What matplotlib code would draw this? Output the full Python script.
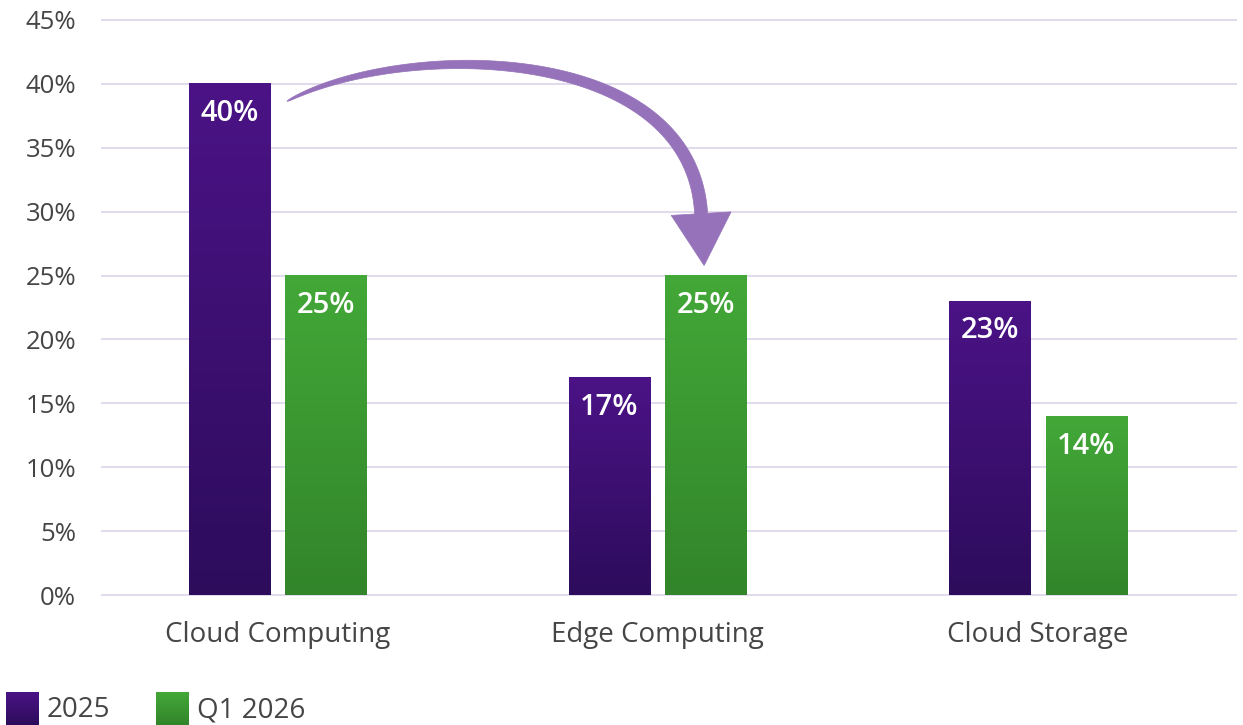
import numpy as np
import matplotlib
matplotlib.use("Agg")
import matplotlib.pyplot as plt
from matplotlib.patches import Polygon
from matplotlib.transforms import IdentityTransform
from matplotlib.ticker import FuncFormatter

# ---- data -------------------------------------------------------------
categories = ["Cloud Computing", "Edge Computing", "Cloud Storage"]
series_names = ["2025", "Q1 2026"]
values_2025 = [40, 17, 23]
values_q1_2026 = [25, 25, 14]
y_ticks = [0, 5, 10, 15, 20, 25, 30, 35, 40, 45]

# ---- style ------------------------------------------------------------
plt.rcParams["font.family"] = ["Open Sans", "DejaVu Sans"]
TEXT = "#454545"
GRID = "#E2DAEE"
PURPLE_TOP, PURPLE_BOT = "#4B1386", "#2D0C5C"
GREEN_TOP, GREEN_BOT = "#43A838", "#32852A"
ARROW = "#9572B9"

W, H = 1243, 725
fig = plt.figure(figsize=(W / 100, H / 100), dpi=100)
ax = fig.add_axes([0.0813, 0.1757, 0.9139, 0.8003])

x = np.arange(len(categories))
bw = 0.214
off = 0.127
ylo, yhi = -0.2, 45.2
xlo, xhi = -0.464, 2.523


def grad_img(top, bot, n=256):
    c0 = np.array(matplotlib.colors.to_rgb(top))
    c1 = np.array(matplotlib.colors.to_rgb(bot))
    t = np.linspace(0, 1, n)[:, None]
    return (c0 * (1 - t) + c1 * t)[:, None, :]


bars_a = ax.bar(x - off, values_2025, bw, color="none", zorder=2)
bars_b = ax.bar(x + off, values_q1_2026, bw, color="none", zorder=2)

for bars, top, bot in ((bars_a, PURPLE_TOP, PURPLE_BOT), (bars_b, GREEN_TOP, GREEN_BOT)):
    for p in bars:
        x0, w, h = p.get_x(), p.get_width(), p.get_height()
        ax.imshow(grad_img(top, bot), extent=[x0, x0 + w, 0, h], aspect="auto",
                  interpolation="bilinear", origin="upper", zorder=3)
        ax.annotate(f"{h:g}%", xy=(x0 + w / 2, h), xytext=(0, -21.5),
                    textcoords="offset points", ha="center", va="center",
                    color="white", fontsize=21, fontweight="semibold", zorder=5)

ax.set_xlim(xlo, xhi)
ax.set_ylim(ylo, yhi)
ax.set_yticks(y_ticks)
ax.yaxis.set_major_formatter(FuncFormatter(lambda v, _: f"{v:g}%"))
ax.set_xticks(x)
ax.set_xticklabels(categories)
ax.tick_params(axis="both", length=0, labelcolor=TEXT)
ax.tick_params(axis="y", pad=18, labelsize=18.5)
ax.tick_params(axis="x", pad=17, labelsize=20)
ax.grid(axis="y", color=GRID, linewidth=1.4, zorder=0)
ax.set_axisbelow(True)
for s in ax.spines.values():
    s.set_visible(False)

# ---- curved arrow from the 2025 cloud bar to the Q1 2026 edge bar -----
def to_px(xd, yd):
    """data -> top-down pixel coordinates"""
    dx, dy = ax.transData.transform((xd, yd))
    return np.array([dx, H - dy])


src = to_px(bars_a[0].get_x() + bars_a[0].get_width(), values_2025[0])
dst = to_px(bars_b[1].get_x() + bars_b[1].get_width() / 2, values_q1_2026[1])

P0 = src + np.array([17, 17.5])
tip = dst + np.array([-2, -10])
P2_rel = np.array([-10, -173])
u_end = -P2_rel / np.hypot(*P2_rel)
head_len, head_half = 52, 30
P3 = tip - head_len * u_end
P1 = P0 + np.array([113, -61])
P2 = P3 + P2_rel

t = np.linspace(0, 1, 200)[:, None]
B = ((1 - t) ** 3) * P0 + 3 * ((1 - t) ** 2) * t * P1 + 3 * (1 - t) * t ** 2 * P2 + t ** 3 * P3
dB = 3 * ((1 - t) ** 2) * (P1 - P0) + 6 * (1 - t) * t * (P2 - P1) + 3 * t ** 2 * (P3 - P2)
tang = dB / np.hypot(dB[:, 0], dB[:, 1])[:, None]
nrm = np.column_stack([-tang[:, 1], tang[:, 0]])
half = 6.5 * t ** 0.45
upper = B + nrm * half
lower = B - nrm * half
shaft = np.vstack([upper, lower[::-1]])

perp_end = np.array([-u_end[1], u_end[0]])
head = np.array([P3 + perp_end * head_half, tip, P3 - perp_end * head_half])


def to_disp(pts):
    return np.column_stack([pts[:, 0], H - pts[:, 1]])


for poly in (shaft, head):
    fig.add_artist(Polygon(to_disp(poly), closed=True, facecolor=ARROW,
                           edgecolor=ARROW, linewidth=0.5, transform=IdentityTransform(),
                           zorder=6))

# ---- legend -----------------------------------------------------------
legend_items = [(series_names[0], PURPLE_TOP, PURPLE_BOT, 6),
                (series_names[1], GREEN_TOP, GREEN_BOT, 156)]
for name, top, bot, left in legend_items:
    sq = fig.add_axes([left / W, 0.0, 33 / W, 33 / H])
    sq.imshow(grad_img(top, bot), aspect="auto", interpolation="bilinear", origin="upper")
    sq.set_axis_off()
    fig.text((left + 41) / W, 15 / H, name, fontsize=20, color=TEXT, ha="left", va="center")

fig.savefig("out.png", dpi=100)
